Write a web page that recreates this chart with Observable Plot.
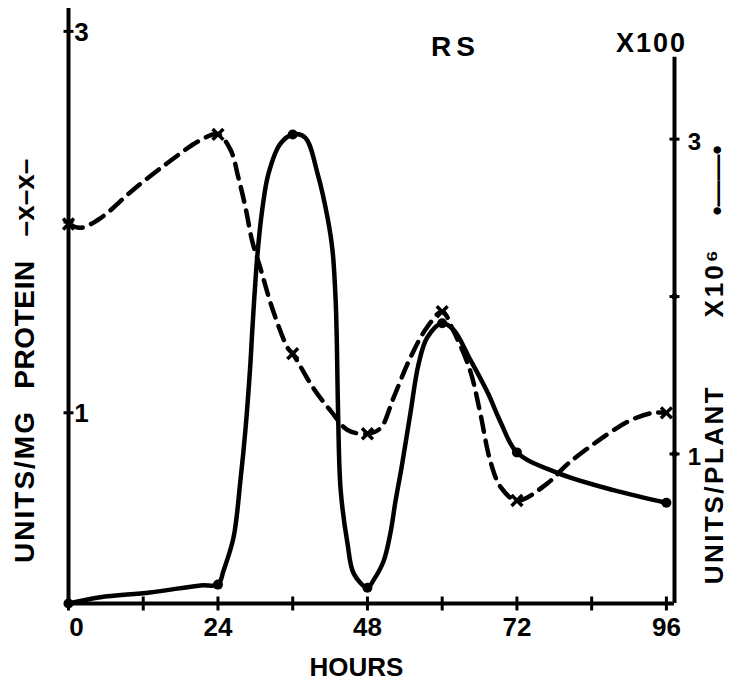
<!DOCTYPE html>
<html><head><meta charset="utf-8">
<script src="https://cdn.jsdelivr.net/npm/d3@7"></script>
<script src="https://cdn.jsdelivr.net/npm/@observablehq/plot@0.6"></script>
<style>body{margin:0;background:#fff}</style>
</head><body><div id="chart"></div>
<script>
// Measured points (hours)
const hours = [0, 24, 36, 48, 60, 72, 96];
// Left axis: units / mg protein  (-x-x-)
const unitsPerMgProtein = [1.99, 2.46, 1.31, 0.89, 1.53, 0.54, 1.00];
// Right axis: units / plant x10^6 (x100)  (•—•)
const unitsPerPlant = [0.05, 0.17, 3.03, 0.15, 1.83, 1.01, 0.69];

// Hand-drawn curve shapes
const proteinCurveHours  = [0, 1.9, 5.1, 10.4, 15.9, 21.2, 24, 26.0, 27.3, 28.4, 29.5, 30.8, 32.7, 35.2, 36, 39.3, 42.1, 44.8, 48, 50.1, 52.2, 54.9, 57.6, 60, 61.8, 64.5, 66.1, 67.7, 69.4, 72, 76.9, 80.1, 84.9, 90.2, 93.9, 96];
const proteinCurveValues = [1.99, 1.97, 2.02, 2.17, 2.31, 2.43, 2.46, 2.38, 2.23, 2.08, 1.90, 1.76, 1.55, 1.34, 1.31, 1.13, 1.01, 0.91, 0.89, 0.92, 1.08, 1.29, 1.45, 1.53, 1.43, 1.22, 1.00, 0.75, 0.61, 0.54, 0.63, 0.73, 0.85, 0.96, 1.00, 1.00];
const plantCurveHours  = [0, 5.1, 13.1, 21.2, 24, 24.9, 26.5, 27.6, 28.4, 29.2, 29.5, 30.3, 31.1, 32.1, 34.0, 36, 38.0, 40.0, 41.6, 42.4, 42.9, 43.1, 43.3, 43.7, 44.8, 45.8, 48, 49.0, 50.6, 51.7, 52.5, 53.5, 54.9, 56.2, 57.6, 60, 61.8, 64.5, 67.3, 69.4, 72, 78.5, 87.5, 96];
const plantCurveValues = [0.05, 0.09, 0.12, 0.165, 0.17, 0.26, 0.47, 0.83, 1.15, 1.57, 1.78, 2.25, 2.55, 2.78, 2.97, 3.03, 3.01, 2.78, 2.50, 2.29, 1.97, 1.68, 1.23, 0.77, 0.43, 0.24, 0.15, 0.20, 0.32, 0.50, 0.70, 0.92, 1.26, 1.57, 1.74, 1.83, 1.79, 1.60, 1.39, 1.20, 1.01, 0.88, 0.77, 0.69];

// Axes
const xTickLabels = [24, 48, 72, 96];
const xZeroLabel = [0];
const xMajorTicks = [0, 24, 48, 72, 96];
const xMinorTicks = [12, 36, 60, 84];
const leftTicks = [1, 2, 3];
const leftTickLabels = [3, 1];
const rightTicks = [1, 2, 3];
const rightTickLabels = [3, 1];
const xDomain = [0, 97.3];
const leftDomain = [0, 3.12];
const rightDomain = [0.05, 3.83];
const rightAxisTop = 3.52;

const toLeft = r => (r - rightDomain[0]) / (rightDomain[1] - rightDomain[0]) * (leftDomain[1] - leftDomain[0]) + leftDomain[0];

const proteinCurve = proteinCurveHours.map((h, i) => ({h, v: proteinCurveValues[i]}));
const plantCurve = plantCurveHours.map((h, i) => ({h, v: toLeft(plantCurveValues[i])}));
const proteinPts = hours.map((h, i) => ({h, v: unitsPerMgProtein[i]}));
const plantPts = hours.map((h, i) => ({h, v: toLeft(unitsPerPlant[i])}));

const FONT = "Liberation Sans, Arial, sans-serif";
const ML = 68, MT = 8;
const vtick = {draw(ctx, size) { const r = Math.sqrt(size / Math.PI); ctx.moveTo(0, -r); ctx.lineTo(0, r); }};
const htick = {draw(ctx, size) { const r = Math.sqrt(size / Math.PI); ctx.moveTo(-r, 0); ctx.lineTo(r, 0); }};
const label = (text, x, y, o = {}) => Plot.text([text], {
  frameAnchor: "top-left", dx: x - ML, dy: y - MT, textAnchor: "middle", lineAnchor: "middle",
  fontFamily: FONT, fontWeight: "bold", fill: "black", fontSize: 26, ...o
});
const tickText = {fontSize: 26, fontWeight: "bold", fontFamily: FONT, fill: "black"};

const chart = Plot.plot({
  width: 737, height: 685,
  marginLeft: ML, marginRight: 63, marginTop: MT, marginBottom: 82,
  x: {domain: xDomain, axis: null},
  y: {domain: leftDomain, axis: null},
  style: {background: "white", color: "black"},
  marks: [
    // axis lines
    Plot.ruleY([0], {x1: xDomain[0], x2: xDomain[1], stroke: "black", strokeWidth: 4}),
    Plot.ruleX([0], {y1: -0.01, y2: leftDomain[1], stroke: "black", strokeWidth: 4}),
    Plot.ruleX([xDomain[1]], {y1: 0, y2: toLeft(rightAxisTop), stroke: "black", strokeWidth: 4}),
    // ticks
    Plot.dot([...xMajorTicks, ...xMinorTicks], {x: d => d, y: 0, symbol: vtick, r: 7, stroke: "black", strokeWidth: 3}),
    Plot.dot(leftTicks, {x: 0, y: d => d, symbol: htick, r: 5, stroke: "black", strokeWidth: 3}),
    Plot.dot(rightTicks, {x: xDomain[1], y: d => toLeft(d), symbol: htick, r: 5, stroke: "black", strokeWidth: 3}),
    Plot.dot([2, 1], {x: xDomain[1], y: d => toLeft(d), r: 3, fill: "black"}),
    // tick labels
    Plot.text(xTickLabels, {x: d => d, y: 0, dy: 24, ...tickText}),
    Plot.text(xZeroLabel, {x: d => d, y: 0, dx: 8, dy: 24, ...tickText}),
    Plot.text(leftTickLabels, {x: 0, y: d => d, dx: 13, dy: 1, ...tickText}),
    Plot.text(rightTickLabels, {x: xDomain[1], y: d => toLeft(d), dx: 20, dy: 3, ...tickText, fontSize: 24}),
    // curves
    Plot.line(proteinCurve, {x: "h", y: "v", curve: "catmull-rom", stroke: "black", strokeWidth: 4.5, strokeDasharray: "15,9"}),
    Plot.line(plantCurve, {x: "h", y: "v", curve: "catmull-rom", stroke: "black", strokeWidth: 4.5}),
    Plot.dot(proteinPts, {x: "h", y: "v", symbol: "times", r: 5, stroke: "black", strokeWidth: 3.5}),
    Plot.dot(plantPts, {x: "h", y: "v", r: 5, fill: "black"}),
    // titles
    label("RS", 455, 47, {fontSize: 28}),
    label("X100", 651, 43, {fontSize: 27}),
    label("HOURS", 356, 667, {fontSize: 26}),
    label("UNITS/MG", 25, 486, {fontSize: 28, rotate: -90}),
    label("PROTEIN", 25, 324, {fontSize: 28, rotate: -90}),
    label("–x–x–", 25, 197, {fontSize: 28, rotate: -90}),
    label("UNITS/PLANT", 714, 484, {fontSize: 26, rotate: -90}),
    label("X10⁶", 714, 282, {fontSize: 26, rotate: -90}),
    label("•——•", 717, 180, {fontSize: 26, rotate: -90})
  ]
});
const spacing = {"RS": 5, "X100": 2, "UNITS/MG": 2, "PROTEIN": 0.6, "UNITS/PLANT": 2.5, "X10⁶": 3};
chart.querySelectorAll("text").forEach(t => {
  const s = spacing[t.textContent];
  if (s) t.setAttribute("letter-spacing", s);
});
document.getElementById("chart").appendChild(chart);
</script></body></html>
